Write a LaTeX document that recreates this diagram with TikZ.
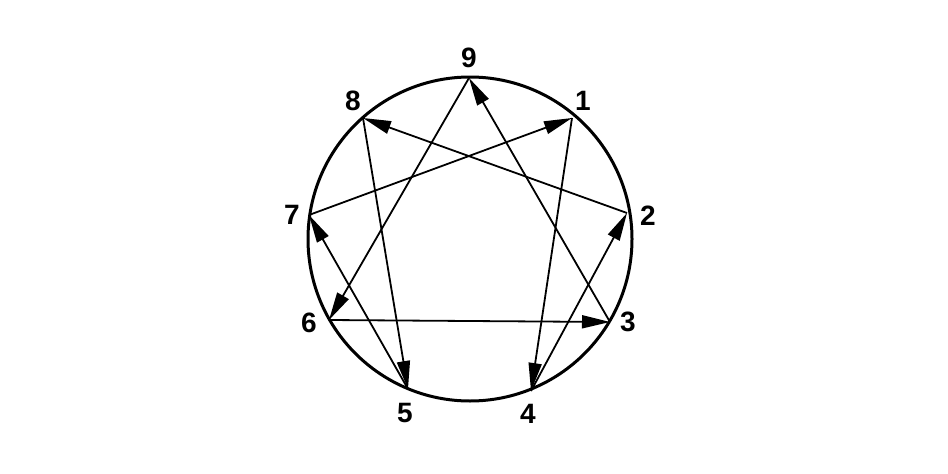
\documentclass[tikz,border=0pt]{standalone}
\usepackage{fontspec}
\setmainfont{Liberation Sans}
\usetikzlibrary{arrows.meta}
\begin{document}
\begin{tikzpicture}[x=1pt,y=-1pt,
  ring/.style={line width=3pt},
  edge/.style={line width=1.8pt,-{Triangle[length=28pt,width=13pt]}},
  lab/.style={font=\fontsize{28}{32}\selectfont\bfseries,inner sep=0pt}]
\useasboundingbox (0,0) rectangle (948,474);
\node[circle,draw,ring,minimum size=324pt,inner sep=0pt] (ring) at (470,239) {};
\coordinate (p9) at (469,78);
\coordinate (p1) at (572,118);
\coordinate (p2) at (627,213);
\coordinate (p3) at (610,322);
\coordinate (p4) at (531,391);
\coordinate (p5) at (408,389);
\coordinate (p6) at (329,320);
\coordinate (p7) at (309,215);
\coordinate (p8) at (363,118);
\node[lab] (l9) at (469,58) {9};
\node[lab] (l1) at (583,101) {1};
\node[lab] (l2) at (648,216) {2};
\node[lab] (l3) at (628,322) {3};
\node[lab] (l4) at (528,414) {4};
\node[lab] (l5) at (405,413) {5};
\node[lab] (l6) at (309,323) {6};
\node[lab] (l7) at (292,215) {7};
\node[lab] (l8) at (353,101) {8};
\draw[edge] (p1) -- (p4);
\draw[edge] (p4) -- (p2);
\draw[edge] (p2) -- (p8);
\draw[edge] (p8) -- (p5);
\draw[edge] (p5) -- (p7);
\draw[edge] (p7) -- (p1);
\draw[edge] (p9) -- (p6);
\draw[edge] (p6) -- (p3);
\draw[edge] (p3) -- (p9);
\end{tikzpicture}
\end{document}
